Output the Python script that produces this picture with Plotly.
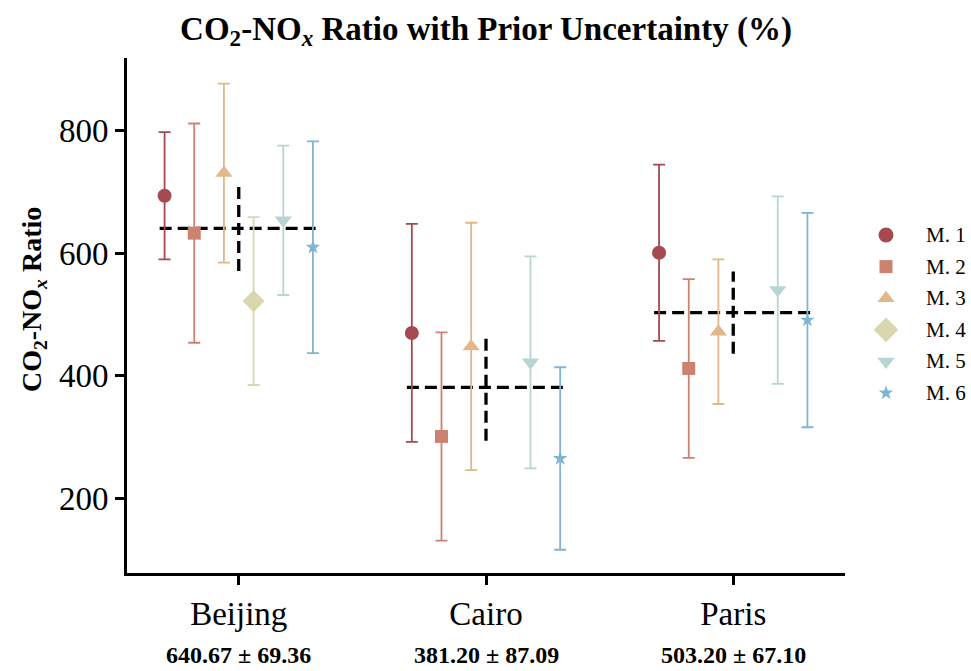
import plotly.graph_objects as go

cities = ["Beijing", "Cairo", "Paris"]
models = ["M. 1", "M. 2", "M. 3", "M. 4", "M. 5", "M. 6"]
# values per model across cities (None = not available)
m1 = [694, 470, 601]
m2 = [633, 301, 412]
m3 = [731, 448, 472]
m4 = [522, None, None]
m5 = [654, 422, 540]
m6 = [610, 265, 491]
e1 = [104, 178, 144]
e2 = [179, 170, 146]
e3 = [146, 202, 118]
e4 = [137, None, None]
e5 = [122, 173, 153]
e6 = [173, 149, 175]
city_mean = [640.67, 381.20, 503.20]
city_std = [69.36, 87.09, 67.10]

values = [m1, m2, m3, m4, m5, m6]
errors = [e1, e2, e3, e4, e5, e6]
colors = ["#A54A50", "#CB8271", "#E0B88C", "#DAD7AE", "#B7D6D3", "#80B5D1"]
symbols = ["circle", "square", "triangle-up", "diamond", "triangle-down", "star"]
sizes = [14, 13, 15, 17, 15, 11]
offsets = [-0.30, -0.18, -0.06, 0.06, 0.18, 0.30]
half_w = 0.32

FONT = "Liberation Serif"

# Figure geometry (page body margin is removed in post_script)
W, H = 971, 671
ML, MT, MB = 127, 58, 98
PLOT_W = 718
PLOT_H = H - MT - MB
area_w = W - ML
main_frac = PLOT_W / area_w

fig = go.Figure()

dash = "12px,6px"
for i, c in enumerate(cities):
    fig.add_trace(go.Scatter(x=[i - half_w, i + half_w], y=[city_mean[i], city_mean[i]],
                             mode="lines", line=dict(color="black", width=3.3, dash=dash),
                             showlegend=False, hoverinfo="skip"))
    fig.add_trace(go.Scatter(x=[i, i], y=[city_mean[i] - city_std[i], city_mean[i] + city_std[i]],
                             mode="lines", line=dict(color="black", width=3.3, dash=dash),
                             showlegend=False, hoverinfo="skip"))

for k, name in enumerate(models):
    xs, ys, es = [], [], []
    for i in range(len(cities)):
        if values[k][i] is not None:
            xs.append(i + offsets[k])
            ys.append(values[k][i])
            es.append(errors[k][i])
    fig.add_trace(go.Scatter(
        x=xs, y=ys, mode="markers", name=name, showlegend=False,
        marker=dict(symbol=symbols[k], size=sizes[k], color=colors[k], line=dict(width=0)),
        error_y=dict(type="data", array=es, visible=True, color=colors[k], thickness=1.8, width=6),
    ))

# manual legend drawn on an overlay axis measured in figure pixels
leg_x_marker = 886
leg_x_text = 924
leg_y0 = 235
leg_dy = 31.6
leg_sizes = [15, 13, 15, 19, 15, 11]
for k, name in enumerate(models):
    yk = leg_y0 + k * leg_dy
    fig.add_trace(go.Scatter(x=[leg_x_marker], y=[yk], xaxis="x2", yaxis="y2", mode="markers",
                             marker=dict(symbol=symbols[k], size=leg_sizes[k], color=colors[k], line=dict(width=0)),
                             showlegend=False, hoverinfo="skip", cliponaxis=False))
    fig.add_annotation(x=leg_x_text, y=yk, xref="x2", yref="y2", text=name, showarrow=False,
                       xanchor="left", yanchor="middle",
                       font=dict(family=FONT, size=21, color="black"))

for i in range(len(cities)):
    fig.add_annotation(x=i, xref="x", y=(H - MB - 655) / PLOT_H, yref="paper", yanchor="middle",
                       text=f"<b>{city_mean[i]:.2f} ± {city_std[i]:.2f}</b>", showarrow=False,
                       font=dict(family=FONT, size=24, color="black"))

# y-axis title
fig.add_annotation(x=(33 - ML) / area_w, xref="paper", y=(H - MB - 300) / PLOT_H, yref="paper",
                   text="<b>CO<sub>2</sub>-NO<sub><i>x</i></sub> Ratio</b>", textangle=-90,
                   showarrow=False, xanchor="center", yanchor="middle",
                   font=dict(family=FONT, size=28, color="black"))

fig.update_layout(
    width=W, height=H,
    margin=dict(l=ML, r=0, t=MT, b=MB),
    plot_bgcolor="white", paper_bgcolor="white",
    font=dict(family=FONT, color="black"),
    title=dict(text="<b>CO<sub>2</sub>-NO<sub><i>x</i></sub> Ratio with Prior Uncertainty (%)</b>",
               x=(ML + PLOT_W / 2) / W, xref="container", xanchor="center", y=1 - 28 / H, yanchor="middle",
               font=dict(family=FONT, size=33, color="black")),
    showlegend=False,
    xaxis=dict(domain=[0, main_frac], range=[-0.452, 2.452], tickvals=[0, 1, 2], ticktext=cities,
               showgrid=False, zeroline=False, showline=True, linecolor="black", linewidth=3,
               ticks="outside", ticklen=9, tickwidth=3, tickcolor="black",
               tickfont=dict(family=FONT, size=33, color="black")),
    yaxis=dict(range=[78, 919], tickvals=[200, 400, 600, 800],
               showgrid=False, zeroline=False, showline=True, linecolor="black", linewidth=3,
               ticks="outside", ticklen=9, tickwidth=3, tickcolor="black",
               tickfont=dict(family=FONT, size=33, color="black")),
    xaxis2=dict(domain=[main_frac, 1], range=[ML + PLOT_W, W], visible=False, fixedrange=True),
    yaxis2=dict(domain=[0, 1], range=[H - MB, MT], anchor="x2", visible=False, fixedrange=True),
)

post = ("document.documentElement.style.margin='0';document.body.style.margin='0';"
        "document.documentElement.style.overflow='hidden';document.body.style.overflow='hidden';")
fig.write_html("out.html", post_script=post, config={"displayModeBar": False})
